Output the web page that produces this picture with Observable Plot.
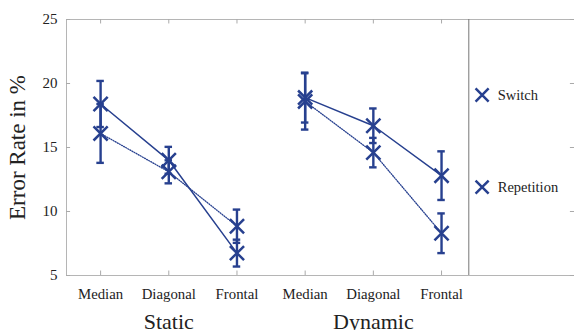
<!DOCTYPE html>
<html>
<head>
<meta charset="utf-8">
<script src="https://cdn.jsdelivr.net/npm/d3@7"></script>
<script src="https://cdn.jsdelivr.net/npm/@observablehq/plot@0.6"></script>
<style>
  html, body { margin: 0; padding: 0; background: #fff; }
  #chart svg { display: block; }
  #chart svg, #chart svg text { font-family: "Liberation Serif", "DejaVu Serif", serif !important; }
</style>
</head>
<body>
<div id="chart"></div>
<script>
// ---- data ----
const categories = ["Median", "Diagonal", "Frontal", "Median", "Diagonal", "Frontal"];
const groupOf = ["Static", "Static", "Static", "Dynamic", "Dynamic", "Dynamic"];
const groups = ["Static", "Dynamic"];
const groupCenters = [1, 4];
const switchValues = [18.4, 14.0, 6.75, 18.9, 16.7, 12.8];
const switchErrors = [1.8, 1.05, 1.05, 1.95, 1.35, 1.9];
const repetitionValues = [16.1, 13.1, 8.85, 18.6, 14.6, 8.3];
const repetitionErrors = [2.3, 0.9, 1.3, 2.2, 1.15, 1.55];
const seriesNames = ["Switch", "Repetition"];
const legendValues = [19.1, 11.9];
const yTicks = [5, 10, 15, 20, 25];

// ---- build table ----
const rows = [];
categories.forEach((c, i) => {
  rows.push({series: "Switch", i, group: groupOf[i], v: switchValues[i], e: switchErrors[i]});
  rows.push({series: "Repetition", i, group: groupOf[i], v: repetitionValues[i], e: repetitionErrors[i]});
});
const switchRows = rows.filter(d => d.series === "Switch");
const repRows = rows.filter(d => d.series === "Repetition");
const idx = categories.map((c, i) => i);
const legend = seriesNames.map((s, k) => ({s, y: legendValues[k]}));

const blue = "#27408f";
const serif = "Liberation Serif";
const capHalf = 0.055;
const xMin = -0.5, xMax = 6.95, divider = 5.4;

const chart = Plot.plot({
  width: 574,
  height: 330,
  marginLeft: 66,
  marginRight: 0,
  marginTop: 19,
  marginBottom: 55,
  style: {fontFamily: "'Liberation Serif', serif", background: "#fff", color: "#222"},
  x: {type: "linear", domain: [xMin, xMax], axis: null},
  y: {domain: [5, 25], axis: null},
  marks: [
    Plot.frame({stroke: "#b5b5b5"}),
    // inward ticks
    Plot.ruleY(yTicks, {x1: xMin, x2: xMin + 0.06, stroke: "#aaa"}),
    Plot.ruleY(yTicks, {x1: xMax - 0.06, x2: xMax, stroke: "#aaa"}),
    Plot.ruleX(idx, {x: d => d, y1: 5, y2: 5.35, stroke: "#aaa"}),
    Plot.ruleX(idx, {x: d => d, y1: 25, y2: 24.65, stroke: "#aaa"}),
    Plot.ruleX([divider], {stroke: "#777", strokeWidth: 1}),
    // y tick labels
    Plot.text(yTicks, {x: xMin, y: d => d, text: d => String(d), textAnchor: "end", dx: -9, fontSize: 15, fill: "#222", fontFamily: serif}),
    // y label
    Plot.text(["Error Rate in %"], {frameAnchor: "left", textAnchor: "middle", rotate: -90, dx: -49, fontSize: 23, fill: "#222", fontFamily: serif}),
    // x category labels
    Plot.text(idx, {x: d => d, text: d => categories[d], frameAnchor: "bottom", dy: 19, lineAnchor: "middle", fontSize: 14.8, fill: "#222", fontFamily: serif}),
    // group labels
    Plot.text(groups, {x: (d, k) => groupCenters[k], text: d => d, frameAnchor: "bottom", dy: 46, lineAnchor: "middle", fontSize: 22, fill: "#222", fontFamily: serif}),
    // lines
    Plot.line(switchRows, {x: "i", y: "v", z: "group", stroke: blue, strokeWidth: 1.5}),
    Plot.line(repRows, {x: "i", y: "v", z: "group", stroke: blue, strokeWidth: 1.3, strokeDasharray: "1,1.4"}),
    // error bars
    Plot.ruleX(rows, {x: "i", y1: d => d.v - d.e, y2: d => d.v + d.e, stroke: blue, strokeWidth: 2.4}),
    Plot.ruleY(rows, {y: d => d.v + d.e, x1: d => d.i - capHalf, x2: d => d.i + capHalf, stroke: blue, strokeWidth: 2.4}),
    Plot.ruleY(rows, {y: d => d.v - d.e, x1: d => d.i - capHalf, x2: d => d.i + capHalf, stroke: blue, strokeWidth: 2.4}),
    // markers
    Plot.dot(rows, {x: "i", y: "v", symbol: "times", r: 6.5, stroke: blue, strokeWidth: 2.5}),
    // legend
    Plot.dot(legend, {x: 5.595, y: "y", symbol: "times", r: 6, stroke: blue, strokeWidth: 2.5}),
    Plot.text(legend, {x: 5.824, y: "y", text: "s", textAnchor: "start", fontSize: 14.5, fill: "#222", fontFamily: serif})
  ]
});
document.getElementById("chart").appendChild(chart);
</script>
</body>
</html>
